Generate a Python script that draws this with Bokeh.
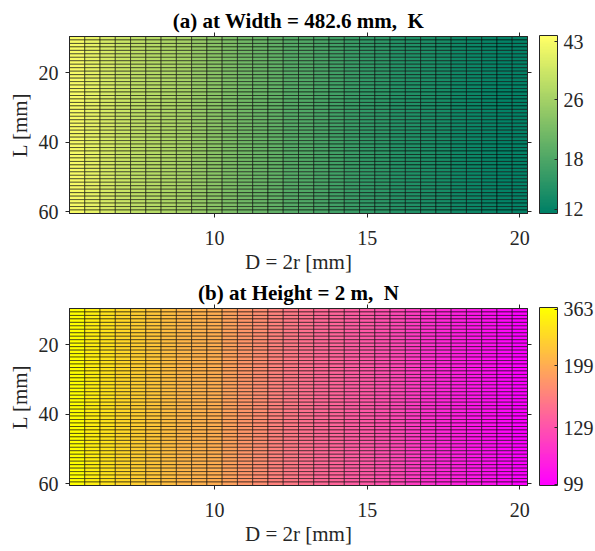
import numpy as np
from bokeh.plotting import figure
from bokeh.models import (ColumnDataSource, LinearColorMapper, ColorBar,
                          FixedTicker, LinearAxis, Range1d)
from bokeh.layouts import column
from bokeh.embed import file_html
from bokeh.resources import INLINE

# ---------------- data ----------------
D_mm = [5.5, 6.0, 6.5, 7.0, 7.5, 8.0, 8.5, 9.0, 9.5, 10.0,
        10.5, 11.0, 11.5, 12.0, 12.5, 13.0, 13.5, 14.0, 14.5, 15.0,
        15.5, 16.0, 16.5, 17.0, 17.5, 18.0, 18.5, 19.0, 19.5, 20.0]
L_mm = [10, 11, 12, 13, 14, 15, 16, 17, 18, 19, 20, 21, 22, 23, 24, 25, 26,
        27, 28, 29, 30, 31, 32, 33, 34, 35, 36, 37, 38, 39, 40, 41, 42, 43,
        44, 45, 46, 47, 48, 49, 50, 51, 52, 53, 54, 55, 56, 57, 58, 59, 60]
# (a) K per D column (uniform along L)
K_by_D = [42.9, 39.3, 36.3, 33.7, 31.5, 29.5, 27.8, 26.2, 24.8, 23.6,
          22.5, 21.5, 20.5, 19.7, 18.9, 18.2, 17.5, 16.9, 16.3, 15.7,
          15.2, 14.8, 14.3, 13.9, 13.5, 13.1, 12.8, 12.4, 12.1, 11.8]
# (b) N per D column (uniform along L)
N_by_D = [363, 333, 307, 285, 266, 250, 235, 222, 210, 200,
          190, 181, 174, 166, 160, 154, 148, 143, 138, 133,
          129, 125, 121, 117, 114, 111, 108, 105, 102, 99]
K_cbar_labels = [12, 18, 26, 43]
N_cbar_labels = [99, 129, 199, 363]
x_ticks = [10, 15, 20]
y_ticks = [20, 40, 60]
titles = ["(a) at Width = 482.6 mm,\u00a0 K", "(b) at Height = 2 m,\u00a0 N"]

# ---------------- style ----------------
K_cbar_pos = [0.025, 0.305, 0.639, 0.966]   # tick positions along bar (fraction)
N_cbar_pos = [0.006, 0.324, 0.674, 0.990]
FONT = "Liberation Serif"
AX = "#262626"


def hexc(r, g, b):
    return "#%02x%02x%02x" % (int(round(r * 255)), int(round(g * 255)), int(round(b * 255)))


summer = [hexc(i / 63, 0.5 + 0.5 * i / 63, 0.4) for i in range(64)]
spring = [hexc(1.0, i / 63, 1 - i / 63) for i in range(64)]


def panel(title, vals_by_d, labels, pos, palette, top, bottom):
    nL = len(L_mm)
    xs = np.repeat(np.array(D_mm, float), nL)
    ys = np.tile(np.array(L_mm, float), len(D_mm))
    vals = np.repeat(np.array(vals_by_d, float), nL)
    frac = np.interp(vals, labels, pos)
    src = ColumnDataSource(dict(x=xs, y=ys, v=vals, f=frac))
    mapper = LinearColorMapper(palette=palette, low=0, high=1)

    dx = D_mm[1] - D_mm[0]
    dy = L_mm[1] - L_mm[0]
    p = figure(frame_width=458, frame_height=177,
               x_range=Range1d(D_mm[0] - dx / 2, D_mm[-1] + dx / 2),
               y_range=Range1d(L_mm[-1] + dy / 2, L_mm[0] - dy / 2),
               output_backend="svg", toolbar_location=None,
               min_border_left=69, min_border_right=68,
               min_border_top=top, min_border_bottom=bottom,
               background_fill_color="white", border_fill_color="white")
    p.rect(x="x", y="y", width=dx, height=dy, source=src,
           fill_color={"field": "f", "transform": mapper},
           line_color="black", line_width=0.6, line_alpha=0.9)

    p.grid.visible = False
    p.outline_line_color = AX
    p.outline_line_width = 1

    p.title.text = title
    p.title.text_font = FONT
    p.title.text_font_style = "bold"
    p.title.text_font_size = "21px"
    p.title.align = "center"
    p.title.text_color = "black"
    p.title.standoff = 0

    xb = p.below[0]
    yl = p.left[0]
    xb.ticker = FixedTicker(ticks=x_ticks)
    yl.ticker = FixedTicker(ticks=y_ticks)
    xb.axis_label = "D = 2r [mm]"
    yl.axis_label = "L [mm]"

    top_ax = LinearAxis(ticker=FixedTicker(ticks=x_ticks))
    right_ax = LinearAxis(ticker=FixedTicker(ticks=y_ticks))
    for ax in (top_ax, right_ax):
        ax.major_label_text_color = None
        ax.major_label_standoff = 0
    p.add_layout(top_ax, "above")
    p.add_layout(right_ax, "right")

    for ax in (xb, yl, top_ax, right_ax):
        ax.axis_line_color = AX
        ax.major_tick_line_color = AX
        ax.major_tick_in = 0
        ax.major_tick_out = 4
        ax.minor_tick_line_color = None
    for ax in (xb, yl):
        ax.major_label_text_font = FONT
        ax.major_label_text_font_size = "20px"
        ax.major_label_text_color = AX
        ax.axis_label_text_font = FONT
        ax.axis_label_text_font_size = "21px"
        ax.axis_label_text_font_style = "normal"
        ax.axis_label_text_color = AX
    xb.major_label_standoff = 13
    xb.axis_label_standoff = 2
    yl.major_label_standoff = 7
    yl.axis_label_standoff = 4

    cb = ColorBar(color_mapper=mapper,
                  ticker=FixedTicker(ticks=pos),
                  major_label_overrides={pp: str(lb) for pp, lb in zip(pos, labels)},
                  major_label_text_font=FONT,
                  major_label_text_font_size="20px",
                  major_label_text_color=AX,
                  major_tick_in=3, major_tick_out=0,
                  major_tick_line_color=AX,
                  minor_tick_line_color=None,
                  bar_line_color=AX, bar_line_width=1,
                  border_line_color=None,
                  background_fill_alpha=0,
                  label_standoff=6,
                  width=18, height=178,
                  padding=0, margin=0,
                  location=(470, 0))
    p.add_layout(cb, "center")
    return p


p1 = panel(titles[0], K_by_D, K_cbar_labels, K_cbar_pos, summer, 36, 63)
p2 = panel(titles[1], N_by_D, N_cbar_labels, N_cbar_pos, spring, 32, 66)
page = column(p1, p2, spacing=0)

open("out.html", "w").write(file_html(page, INLINE))
